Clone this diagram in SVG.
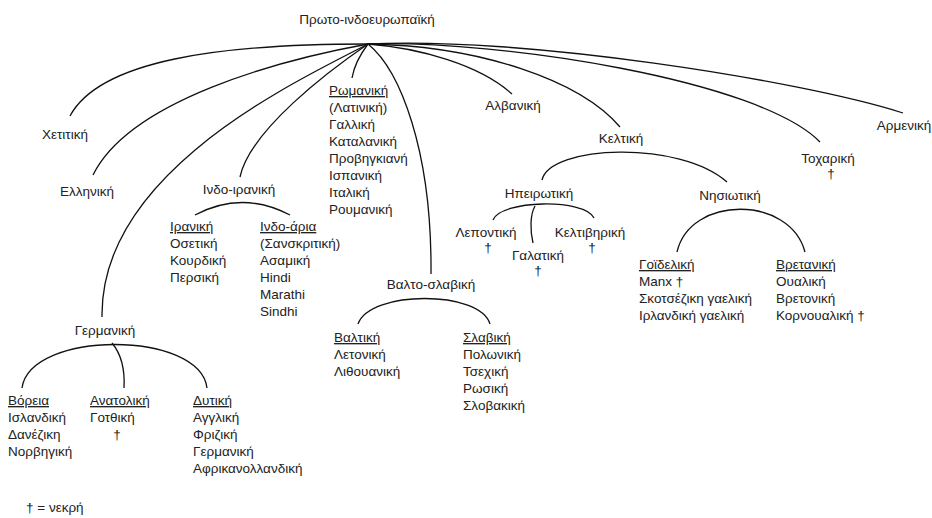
<svg xmlns="http://www.w3.org/2000/svg" width="932" height="518" viewBox="0 0 932 518">
<style>
text{font-family:"Liberation Sans",Arial,sans-serif;font-size:13.5px;fill:#222}
.c{text-anchor:middle}
.u{text-decoration:underline}
.conn path{fill:none;stroke:#111;stroke-width:1.3}
</style>
<rect width="932" height="518" fill="#fff"/>
<g class="conn" id="connectors">
<path d="M368,44 C220,44 100,60 70,116"/>
<path d="M368,44 C280,60 130,100 93,175"/>
<path d="M368,44 C300,80 100,170 102,317"/>
<path d="M368,44 C330,70 250,130 240,177"/>
<path d="M368,44 C362,52 354,66 352,78"/>
<path d="M368,44 C400,70 432,150 431,274"/>
<path d="M368,44 C420,48 480,65 512,94"/>
<path d="M368,44 C480,46 580,80 620,127"/>
<path d="M368,44 C500,40 760,80 820,142"/>
<path d="M368,44 C520,36 800,80 903,113"/>
<path d="M195,215 Q242,190 290,215"/>
<path d="M22,388 C30,330 200,330 207,388"/>
<path d="M112,343 C122,355 125,370 124,388"/>
<path d="M358,324 C370,290 480,290 490,324"/>
<path d="M542,180 C550,145 680,140 727,182"/>
<path d="M493,220 C500,200 585,198 594,218"/>
<path d="M535,206 C530,215 530,230 533,243"/>
<path d="M677,252 C690,195 790,195 805,252"/>
</g>
<g id="root"><text class="c" x="367" y="24">Πρωτο-ινδοευρωπαϊκή</text></g>
<g id="hittite"><text class="c" x="65" y="139">Χετιτική</text></g>
<g id="greek"><text class="c" x="87" y="196">Ελληνική</text></g>
<g id="germanic"><text class="c" x="105" y="335">Γερμανική</text></g>
<g id="north-germanic">
<text x="8" y="405" class="u">Βόρεια</text>
<text x="8" y="422">Ισλανδική</text>
<text x="8" y="439">Δανέζικη</text>
<text x="8" y="456">Νορβηγική</text>
</g>
<g id="east-germanic">
<text x="90" y="405" class="u">Ανατολική</text>
<text x="90" y="422">Γοτθική</text>
<text class="c" x="117" y="439">†</text>
</g>
<g id="west-germanic">
<text x="193" y="405" class="u">Δυτική</text>
<text x="193" y="422">Αγγλική</text>
<text x="193" y="439">Φριζική</text>
<text x="193" y="456">Γερμανική</text>
<text x="193" y="473">Αφρικανολλανδική</text>
</g>
<g id="indo-iranian"><text class="c" x="239" y="194">Ινδο-ιρανική</text></g>
<g id="iranian">
<text x="170" y="231" class="u">Ιρανική</text>
<text x="170" y="248">Οσετική</text>
<text x="170" y="265">Κουρδική</text>
<text x="170" y="282">Περσική</text>
</g>
<g id="indo-aryan">
<text x="260" y="231" class="u">Ινδο-άρια</text>
<text x="260" y="248">(Σανσκριτική)</text>
<text x="260" y="265">Ασαμική</text>
<text x="260" y="282">Hindi</text>
<text x="260" y="299">Marathi</text>
<text x="260" y="316">Sindhi</text>
</g>
<g id="romance">
<text x="329" y="95" class="u">Ρωμανική</text>
<text x="329" y="112">(Λατινική)</text>
<text x="329" y="129">Γαλλική</text>
<text x="329" y="146">Καταλανική</text>
<text x="329" y="163">Προβηγκιανή</text>
<text x="329" y="180">Ισπανική</text>
<text x="329" y="197">Ιταλική</text>
<text x="329" y="214">Ρουμανική</text>
</g>
<g id="balto-slavic"><text class="c" x="431" y="289">Βαλτο-σλαβική</text></g>
<g id="baltic">
<text x="334" y="342" class="u">Βαλτική</text>
<text x="334" y="359">Λετονική</text>
<text x="334" y="376">Λιθουανική</text>
</g>
<g id="slavic">
<text x="463" y="342" class="u">Σλαβική</text>
<text x="463" y="359">Πολωνική</text>
<text x="463" y="376">Τσεχική</text>
<text x="463" y="393">Ρωσική</text>
<text x="463" y="410">Σλοβακική</text>
</g>
<g id="albanian"><text class="c" x="513" y="110">Αλβανική</text></g>
<g id="celtic"><text class="c" x="621" y="143">Κελτική</text></g>
<g id="continental"><text class="c" x="539" y="198">Ηπειρωτική</text></g>
<g id="lepontic"><text class="c" x="486" y="237">Λεποντική</text><text class="c" x="488" y="252">†</text></g>
<g id="gaulish"><text class="c" x="538" y="260">Γαλατική</text><text class="c" x="538" y="275">†</text></g>
<g id="celtiberian"><text class="c" x="590" y="237">Κελτιβηρική</text><text class="c" x="592" y="252">†</text></g>
<g id="insular"><text class="c" x="730" y="200">Νησιωτική</text></g>
<g id="goidelic">
<text x="639" y="269" class="u">Γοϊδελική</text>
<text x="639" y="286">Manx †</text>
<text x="639" y="303">Σκοτσέζικη γαελική</text>
<text x="639" y="320">Ιρλανδική γαελική</text>
</g>
<g id="brittonic">
<text x="776" y="269" class="u">Βρετανική</text>
<text x="776" y="286">Ουαλική</text>
<text x="776" y="303">Βρετονική</text>
<text x="776" y="320">Κορνουαλική †</text>
</g>
<g id="tocharian"><text class="c" x="828" y="163">Τοχαρική</text><text class="c" x="831" y="178">†</text></g>
<g id="armenian"><text class="c" x="904" y="130">Αρμενική</text></g>
<g id="legend"><text x="26" y="512">† = νεκρή</text></g>
</svg>
